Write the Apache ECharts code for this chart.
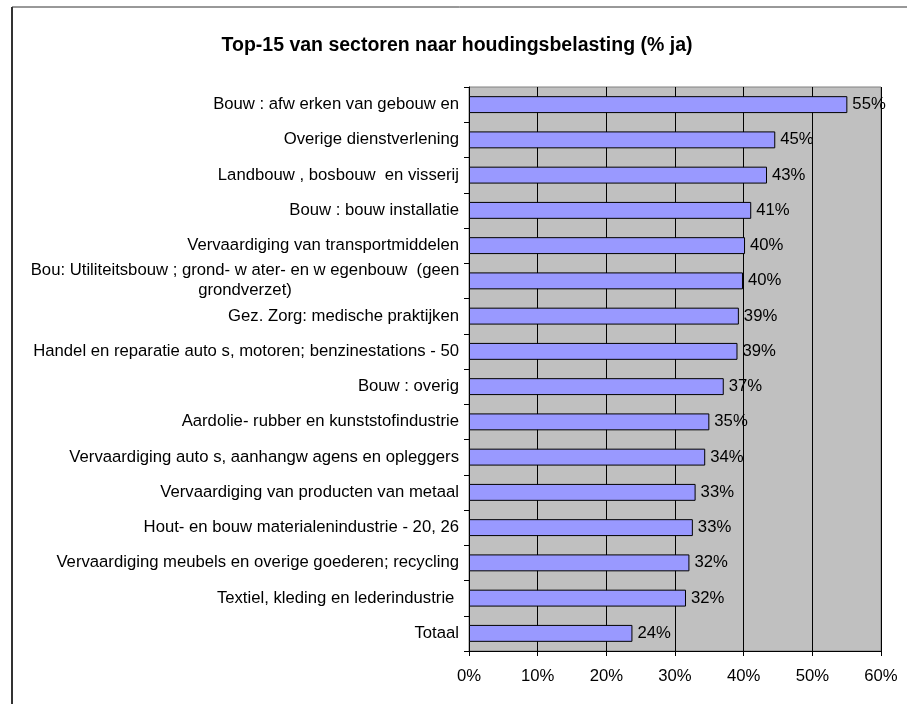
<!DOCTYPE html>
<html>
<head>
<meta charset="utf-8">
<script src="https://cdn.jsdelivr.net/npm/echarts@6/dist/echarts.min.js"></script>
<style>
html,body{margin:0;padding:0;background:#fff;}
#main{width:907px;height:704px;}
</style>
</head>
<body>
<div id="main"></div>
<script type="text/javascript">
// sectoren, van boven naar onder
var sectors = [
    'Bouw : afw erken van gebouw en',
    'Overige dienstverlening',
    'Landbouw , bosbouw  en visserij',
    'Bouw : bouw installatie',
    'Vervaardiging van transportmiddelen',
    'Bou: Utiliteitsbouw ; grond- w ater- en w egenbouw  (geen\ngrondverzet)',
    'Gez. Zorg: medische praktijken',
    'Handel en reparatie auto s, motoren; benzinestations - 50',
    'Bouw : overig',
    'Aardolie- rubber en kunststofindustrie',
    'Vervaardiging auto s, aanhangw agens en opleggers',
    'Vervaardiging van producten van metaal',
    'Hout- en bouw materialenindustrie - 20, 26',
    'Vervaardiging meubels en overige goederen; recycling',
    'Textiel, kleding en lederindustrie ',
    'Totaal'
];
// % ja
var percentJa = [55.1, 44.6, 43.4, 41.1, 40.2, 39.9, 39.3, 39.1, 37.1, 35.0, 34.4, 33.0, 32.6, 32.1, 31.6, 23.8];
var xTicks = [0, 10, 20, 30, 40, 50, 60];

var font = 'Liberation Sans, Arial, sans-serif';
var fs = 16.7;
var chart = echarts.init(document.getElementById('main'));

var option = {
    animation: false,
    title: {
        text: 'Top-15 van sectoren naar houdingsbelasting (% ja)',
        left: 452,
        textAlign: 'center',
        top: 31,
        textStyle: {fontFamily: font, fontSize: 19.5, fontWeight: 'bold', color: '#000'}
    },
    graphic: [
        {type: 'line', shape: {x1: 12, y1: 7, x2: 12, y2: 704}, style: {stroke: '#333', lineWidth: 2}},
        {type: 'line', shape: {x1: 12, y1: 7, x2: 907, y2: 7}, style: {stroke: '#333', lineWidth: 1}}
    ],
    grid: {
        left: 469, right: 26, top: 87, bottom: 53,
        show: true,
        backgroundColor: '#c0c0c0',
        borderColor: '#808080',
        borderWidth: 1
    },
    xAxis: {
        type: 'value',
        min: xTicks[0],
        max: xTicks[xTicks.length - 1],
        interval: 10,
        axisLine: {show: true, lineStyle: {color: '#000'}},
        axisTick: {show: true, length: 5, lineStyle: {color: '#000'}},
        splitLine: {show: true, lineStyle: {color: '#000', width: 1}},
        axisLabel: {
            margin: 17,
            fontFamily: font, fontSize: fs, color: '#000',
            formatter: function (v) { return v + '%'; }
        }
    },
    yAxis: {
        type: 'category',
        inverse: true,
        data: sectors,
        axisLine: {show: true, lineStyle: {color: '#000'}},
        axisTick: {show: true, length: 5, lineStyle: {color: '#000'}},
        axisLabel: {
            margin: 10,
            fontFamily: font, fontSize: fs, color: '#000',
            formatter: function (v) {
                if (v.indexOf('\n') < 0) return v;
                var parts = v.split('\n');
                return '{c|' + parts[0] + '}\n{c|' + parts[1] + '}';
            },
            rich: {
                c: {width: 428, align: 'center', fontFamily: font, fontSize: fs, color: '#000', lineHeight: 20}
            }
        }
    },
    series: [{
        type: 'bar',
        data: percentJa,
        barCategoryGap: '52%',
        itemStyle: {color: '#9999ff', borderColor: '#000', borderWidth: 1},
        label: {
            show: true,
            position: 'right',
            distance: 5,
            fontFamily: font, fontSize: fs, color: '#000',
            formatter: function (p) { return Math.round(p.value) + '%'; }
        }
    }]
};
chart.setOption(option);
</script>
</body>
</html>
